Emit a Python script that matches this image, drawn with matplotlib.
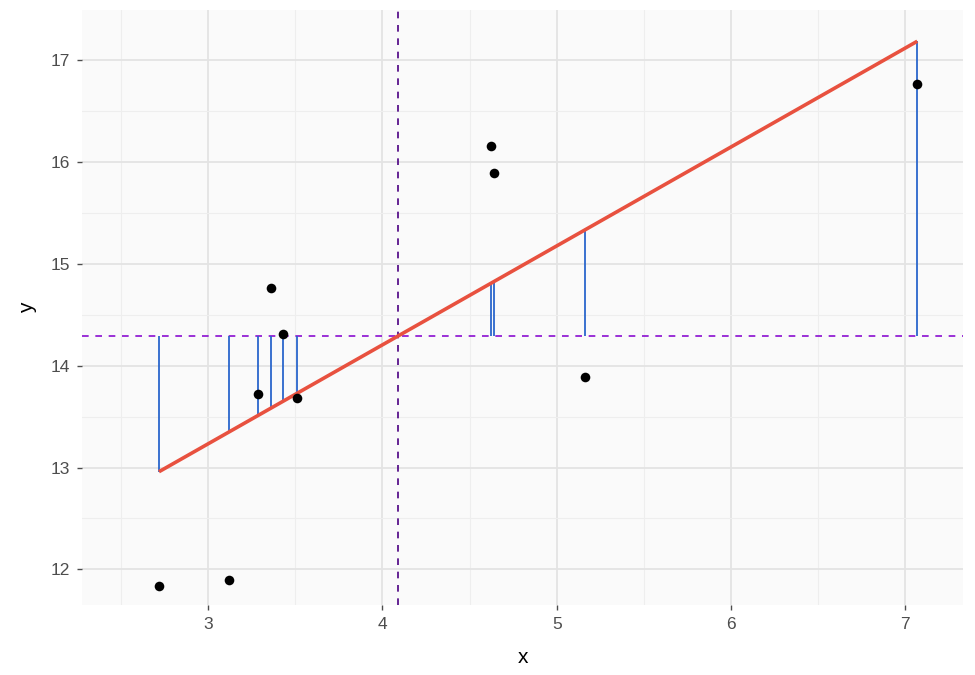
import numpy as np
import matplotlib
matplotlib.use("Agg")
import matplotlib.pyplot as plt
from matplotlib.ticker import MultipleLocator

# data
x = [2.719, 3.120, 3.287, 3.361, 3.430, 3.511, 4.624, 4.641, 5.163, 7.068]
y = [11.84, 11.90, 13.725, 14.764, 14.314, 13.686, 16.157, 15.892, 13.892, 16.764]

x_ticks = [3, 4, 5, 6, 7]
y_ticks = [12, 13, 14, 15, 16, 17]

x_arr = np.array(x)
y_arr = np.array(y)
x_mean = x_arr.mean()
y_mean = y_arr.mean()
slope, intercept = np.polyfit(x_arr, y_arr, 1)
y_fit = intercept + slope * x_arr

plt.rcParams['font.family'] = ['Liberation Sans', 'DejaVu Sans']

fig, ax = plt.subplots(figsize=(9.75, 6.75), dpi=100)
fig.subplots_adjust(left=0.084, right=0.988, top=0.985, bottom=0.103)
ax.set_facecolor('#FAFAFA')

# grid
ax.set_xticks(x_ticks)
ax.set_yticks(y_ticks)
ax.xaxis.set_minor_locator(MultipleLocator(0.5))
ax.yaxis.set_minor_locator(MultipleLocator(0.5))
ax.grid(which='major', color='#E3E3E3', linewidth=1.3, zorder=0)
ax.grid(which='minor', color='#EEEEEE', linewidth=0.8, zorder=0)
ax.set_axisbelow(True)
for s in ax.spines.values():
    s.set_visible(False)
ax.tick_params(which='major', length=3.5, width=1, color='#4D4D4D',
               labelsize=12.5, labelcolor='#4D4D4D', pad=5)
ax.tick_params(which='minor', length=0)

# mean lines
ax.axhline(y_mean, color='#8A0DD0', linestyle=(0, (4, 4)), linewidth=1.2, zorder=2)
ax.axvline(x_mean, color='#4B0082', linestyle=(0, (4, 4)), linewidth=1.2, zorder=2)

# explained deviations
ax.vlines(x_arr, y_mean, y_fit, color='#2A66CC', linewidth=1.3, zorder=3)

# fitted line
ax.plot([x_arr.min(), x_arr.max()],
        [intercept + slope * x_arr.min(), intercept + slope * x_arr.max()],
        color='#E8513F', linewidth=2.6, zorder=4, solid_capstyle='butt')

ax.scatter(x_arr, y_arr, s=48, color='black', zorder=5, linewidths=0)

ax.set_xlim(2.277, 7.332)
ax.set_ylim(11.646, 17.49)
ax.set_xlabel('x', fontsize=15, labelpad=11)
ax.set_ylabel('y', fontsize=15, labelpad=10)

fig.savefig('out.png', dpi=100)
